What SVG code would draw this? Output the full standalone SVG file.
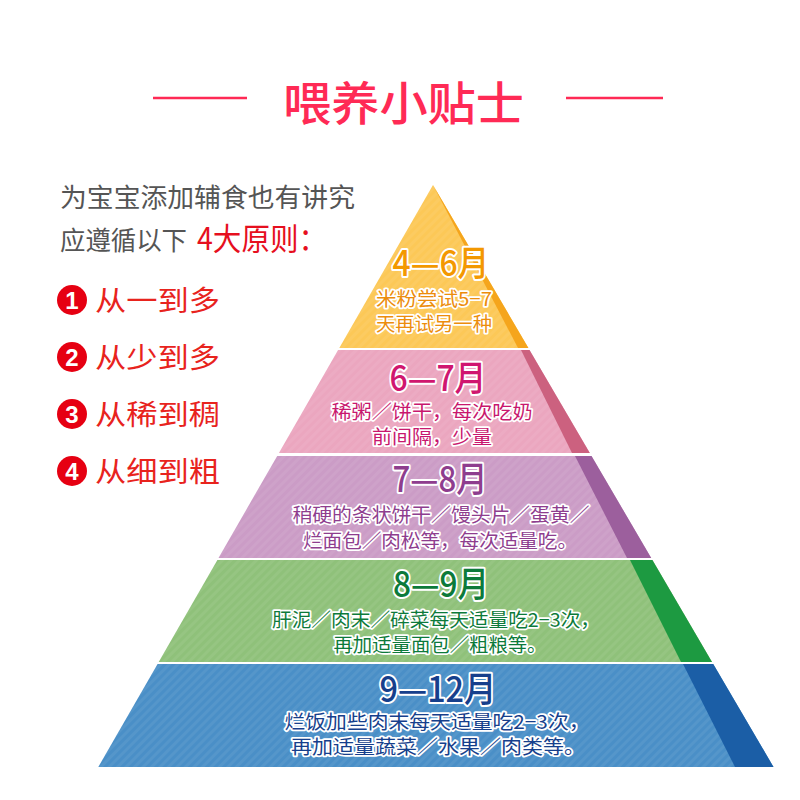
<svg xmlns="http://www.w3.org/2000/svg" width="800" height="800" viewBox="0 0 800 800">
<defs>
<style>
.cjk{font-family:"Noto Sans CJK SC","Noto Sans",sans-serif;}
.title{font-size:46px;fill:#ff2a55;font-weight:500;}
.intro{font-size:26px;fill:#555555;}
.red{fill:#e60f1e;}
.item{font-size:28px;fill:#e8231d;}
.num{font-family:"Liberation Sans",Arial,sans-serif;font-size:24px;font-weight:bold;fill:#ffffff;text-anchor:middle;}
.head{font-size:35px;font-weight:500;text-anchor:middle;stroke:#ffffff;stroke-width:4;paint-order:stroke;stroke-linejoin:round;}
.desc{font-size:19px;text-anchor:middle;stroke:#ffffff;stroke-width:3.5;paint-order:stroke;stroke-linejoin:round;}
.rule{stroke:#ff2a55;stroke-width:2.5;}
</style>
<pattern id="hatch" width="6" height="6" patternUnits="userSpaceOnUse" patternTransform="rotate(45)">
<rect width="3" height="6" fill="#ffffff" fill-opacity="0.06"/>
</pattern>
</defs>
<rect width="800" height="800" fill="#ffffff"/>

<g id="title">
<line class="rule" x1="153" y1="98" x2="247" y2="98"/>
<line class="rule" x1="566" y1="98" x2="663" y2="98"/>
<text class="cjk title" x="283" y="120" textLength="241" lengthAdjust="spacingAndGlyphs">喂养小贴士</text>
</g>

<g id="intro">
<text class="cjk intro" x="60" y="207" textLength="295" lengthAdjust="spacingAndGlyphs">为宝宝添加辅食也有讲究</text>
<text class="cjk intro" x="60" y="250" textLength="127" lengthAdjust="spacingAndGlyphs">应遵循以下</text>
<text class="cjk red" x="197" y="250" font-size="31" textLength="130" lengthAdjust="spacingAndGlyphs">4大原则：</text>
</g>

<g id="rule1">
<circle cx="72" cy="300" r="15" fill="#e60012"/>
<text class="num" x="72" y="308.5">1</text>
<text class="cjk item" x="95" y="311" textLength="125" lengthAdjust="spacingAndGlyphs">从一到多</text>
</g>
<g id="rule2">
<circle cx="72" cy="357" r="15" fill="#e60012"/>
<text class="num" x="72" y="365.5">2</text>
<text class="cjk item" x="95" y="368" textLength="125" lengthAdjust="spacingAndGlyphs">从少到多</text>
</g>
<g id="rule3">
<circle cx="72" cy="414" r="15" fill="#e60012"/>
<text class="num" x="72" y="422.5">3</text>
<text class="cjk item" x="95" y="425" textLength="125" lengthAdjust="spacingAndGlyphs">从稀到稠</text>
</g>
<g id="rule4">
<circle cx="72" cy="471" r="15" fill="#e60012"/>
<text class="num" x="72" y="479.5">4</text>
<text class="cjk item" x="95" y="482" textLength="125" lengthAdjust="spacingAndGlyphs">从细到粗</text>
</g>

<g id="connectors"></g>

<g id="layer-4-6">
<polygon points="433,185 528.4,348 339.3,348" fill="#fcc857"/>
<polygon points="433,185 528.4,348 339.3,348" fill="url(#hatch)"/>
<polygon points="433,185 528.4,348 518,348" fill="#f5a51c"/>
<text class="cjk head" x="441" y="276" fill="#f39800" textLength="97" lengthAdjust="spacingAndGlyphs">4—6月</text>
<text class="cjk desc" x="434" y="306" fill="#ec8d0c" textLength="116" lengthAdjust="spacingAndGlyphs">米粉尝试5−7</text>
<text class="cjk desc" x="434" y="331" fill="#ec8d0c" textLength="116" lengthAdjust="spacingAndGlyphs">天再试另一种</text>
</g>

<g id="layer-6-7">
<polygon points="338.1,350 529.5,350 589.8,453 278.9,453" fill="#eba6bf"/>
<polygon points="338.1,350 529.5,350 589.8,453 278.9,453" fill="url(#hatch)"/>
<polygon points="521,350 529.5,350 589.8,453 572,453" fill="#cc617f"/>
<text class="cjk head" x="438" y="391" fill="#d0166f" textLength="97" lengthAdjust="spacingAndGlyphs">6—7月</text>
<text class="cjk desc" x="432" y="419" fill="#c8176e" textLength="201" lengthAdjust="spacingAndGlyphs">稀粥／饼干，每次吃奶</text>
<text class="cjk desc" x="432" y="444" fill="#c8176e" textLength="120" lengthAdjust="spacingAndGlyphs">前间隔，少量</text>
</g>

<g id="layer-7-8">
<polygon points="277.2,456 591.5,456 651.2,558 218.5,558" fill="#cb9cc6"/>
<polygon points="277.2,456 591.5,456 651.2,558 218.5,558" fill="url(#hatch)"/>
<polygon points="575,456 591.5,456 651.2,558 627,558" fill="#9c5f9d"/>
<text class="cjk head" x="440" y="492" fill="#8e3d8e" textLength="95" lengthAdjust="spacingAndGlyphs">7—8月</text>
<text class="cjk desc" x="441" y="522" fill="#8e3d8e" textLength="297" lengthAdjust="spacingAndGlyphs">稍硬的条状饼干／馒头片／蛋黄／</text>
<text class="cjk desc" x="440" y="548" fill="#8e3d8e" textLength="274" lengthAdjust="spacingAndGlyphs">烂面包／肉松等，每次适量吃。</text>
</g>

<g id="layer-8-9">
<polygon points="217.4,560 652.4,560 712,662 158.7,662" fill="#8fc17a"/>
<polygon points="217.4,560 652.4,560 712,662 158.7,662" fill="url(#hatch)"/>
<polygon points="630,560 652.4,560 712,662 681,662" fill="#1d9a41"/>
<text class="cjk head" x="441" y="597" fill="#0c7a3a" textLength="96" lengthAdjust="spacingAndGlyphs">8—9月</text>
<text class="cjk desc" x="436" y="627" fill="#0c7a3a" textLength="328" lengthAdjust="spacingAndGlyphs">肝泥／肉末／碎菜每天适量吃2−3次，</text>
<text class="cjk desc" x="440" y="652" fill="#0c7a3a" textLength="213" lengthAdjust="spacingAndGlyphs">再加适量面包／粗粮等。</text>
</g>

<g id="layer-9-12">
<polygon points="157.6,664 713.2,664 773.5,767 98.3,767" fill="#4a8fc7"/>
<polygon points="157.6,664 713.2,664 773.5,767 98.3,767" fill="url(#hatch)"/>
<polygon points="683,664 713.2,664 773.5,767 735,767" fill="#1b5ea6"/>
<text class="cjk head" x="438" y="702" fill="#163f8c" textLength="117" lengthAdjust="spacingAndGlyphs">9—12月</text>
<text class="cjk desc" x="437" y="729" fill="#163f8c" textLength="305" lengthAdjust="spacingAndGlyphs">烂饭加些肉末每天适量吃2−3次，</text>
<text class="cjk desc" x="438" y="754" fill="#163f8c" textLength="294" lengthAdjust="spacingAndGlyphs">再加适量蔬菜／水果／肉类等。</text>
</g>
</svg>
